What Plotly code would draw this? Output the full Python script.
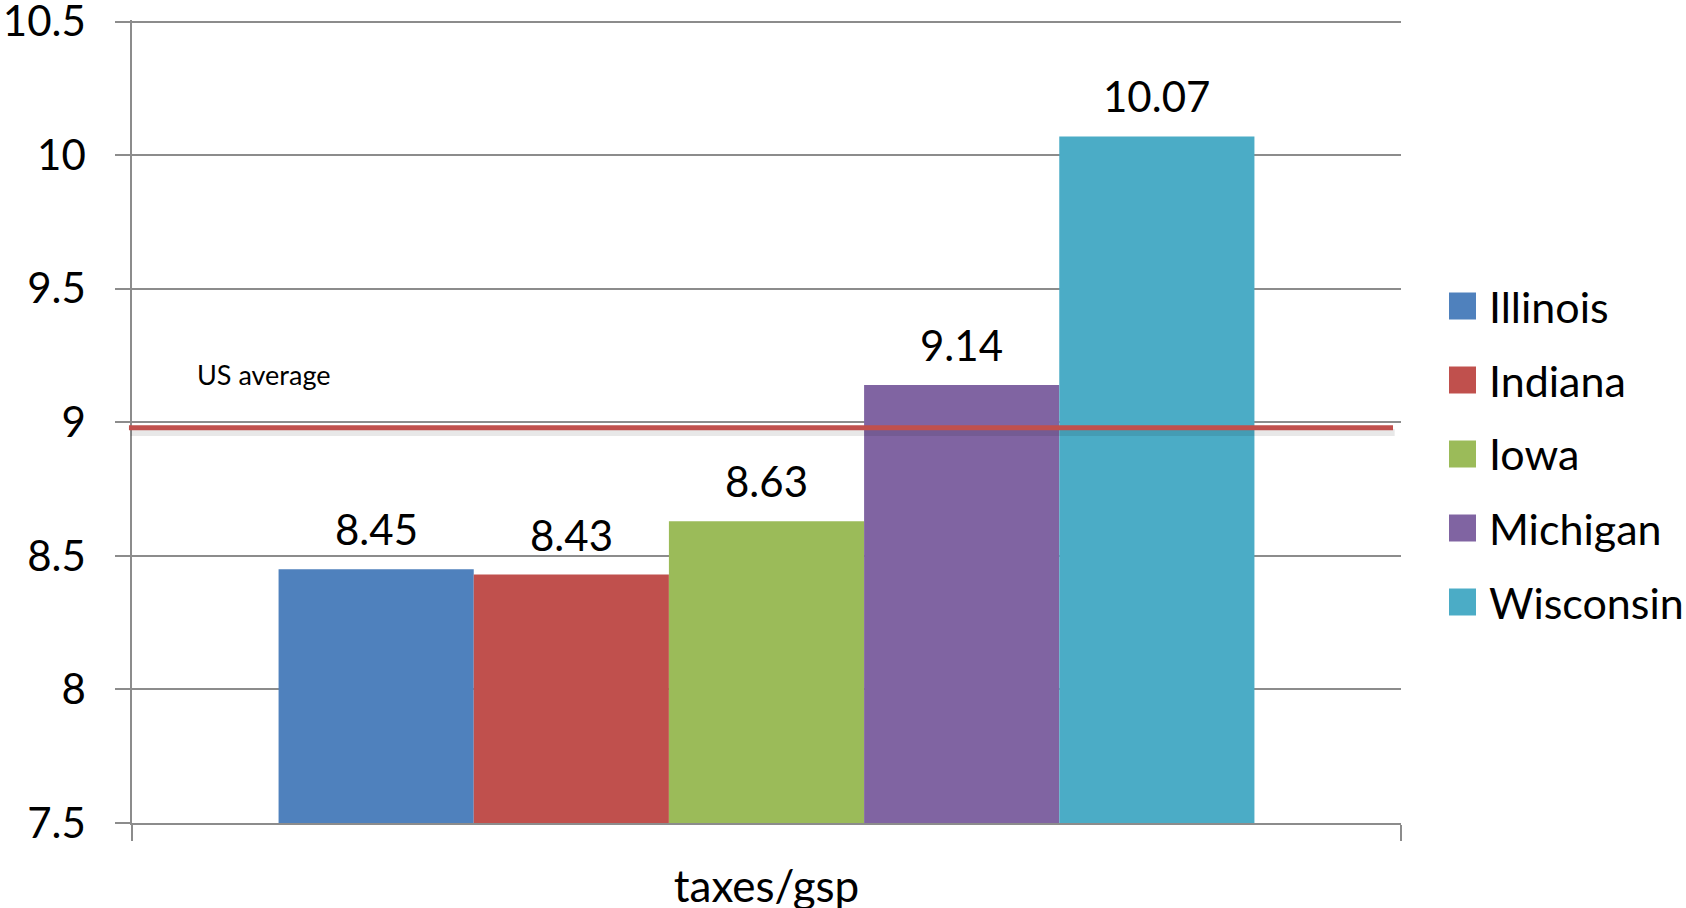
import plotly.graph_objects as go

category = ["taxes/gsp"]
states = ["Illinois", "Indiana", "Iowa", "Michigan", "Wisconsin"]
values = [8.45, 8.43, 8.63, 9.14, 10.07]
colors = ["#4F81BD", "#C0504D", "#9BBB59", "#8064A2", "#4BACC6"]
us_average = 8.98
us_label = "US average"
y_ticks = [7.5, 8, 8.5, 9, 9.5, 10, 10.5]

FONT = "Lato"
W, H = 1686, 908
ML, MR, MT, MB = 132, 285, 20, 85
BARGAP = 0.231
plot_w = W - ML - MR
plot_h = H - MT - MB

fig = go.Figure()
for name, v, c in zip(states, values, colors):
    fig.add_trace(go.Bar(x=category, y=[v], name=name, marker=dict(color=c, line=dict(width=0)),
                         showlegend=False))

n = len(states)
bw = (1 - BARGAP) / n
annotations = []
for i, v in enumerate(values):
    annotations.append(dict(x=(i - (n - 1) / 2) * bw, y=v, xref="x", yref="y",
                            text=f"{v:.2f}", showarrow=False, yanchor="bottom",
                            yshift=13, font=dict(family=FONT, size=42, color="black")))

# US average line with shadow
shapes = [
    dict(type="line", xref="paper", yref="y", x0=-0.001, x1=0.995,
         y0=us_average - 0.018, y1=us_average - 0.018,
         line=dict(color="rgba(0,0,0,0.09)", width=7), layer="above"),
    dict(type="line", xref="paper", yref="y", x0=-0.0024, x1=0.9937,
         y0=us_average, y1=us_average,
         line=dict(color="#C0504D", width=5), layer="above"),
]
annotations.append(dict(x=(195 - ML) / plot_w, y=us_average, xref="paper", yref="y",
                        text=us_label, showarrow=False, xanchor="left", yanchor="bottom",
                        yshift=35, font=dict(family=FONT, size=27, color="black")))

# legend (manual, to match large swatches)
for i, (name, c) in enumerate(zip(states, colors)):
    yc = (H - MB - (306 + i * 74)) / plot_h
    xs = (1449 - ML) / plot_w
    shapes.append(dict(type="rect", xref="paper", yref="paper", xsizemode="pixel", ysizemode="pixel",
                       xanchor=xs, yanchor=yc, x0=0, x1=27, y0=-13.5, y1=13.5,
                       fillcolor=c, line=dict(width=0)))
    annotations.append(dict(x=(1487 - ML) / plot_w, y=yc, xref="paper", yref="paper",
                            text=name, showarrow=False, xanchor="left", yanchor="middle",
                            font=dict(family=FONT, size=43, color="black")))

fig.update_layout(
    width=W, height=H,
    margin=dict(l=ML, r=MR, t=MT, b=MB, pad=0, autoexpand=False),
    paper_bgcolor="white", plot_bgcolor="white",
    barmode="group", bargap=BARGAP, bargroupgap=0,
    font=dict(family=FONT, color="black"),
    shapes=shapes, annotations=annotations,
    xaxis=dict(type="category", showline=True, linecolor="#8C8C8C", linewidth=1.5,
               ticks="outside", tickson="boundaries", ticklen=16, tickcolor="#8C8C8C",
               tickwidth=1.5, showgrid=False, tickfont=dict(family=FONT, size=44, color="black"),
               ticklabelstandoff=24, automargin=False, ticklabeloverflow="allow"),
    yaxis=dict(range=[7.5, 10.506], tickvals=y_ticks, showline=True, linecolor="#8C8C8C",
               linewidth=1.5, ticks="outside", ticklen=15, tickcolor="#8C8C8C", tickwidth=1.5,
               showgrid=True, gridcolor="#8C8C8C", gridwidth=1.5, zeroline=False,
               tickfont=dict(family=FONT, size=42, color="black"), ticklabelstandoff=21,
               automargin=False, ticklabeloverflow="allow"),
)

fig.write_html("out.html")
